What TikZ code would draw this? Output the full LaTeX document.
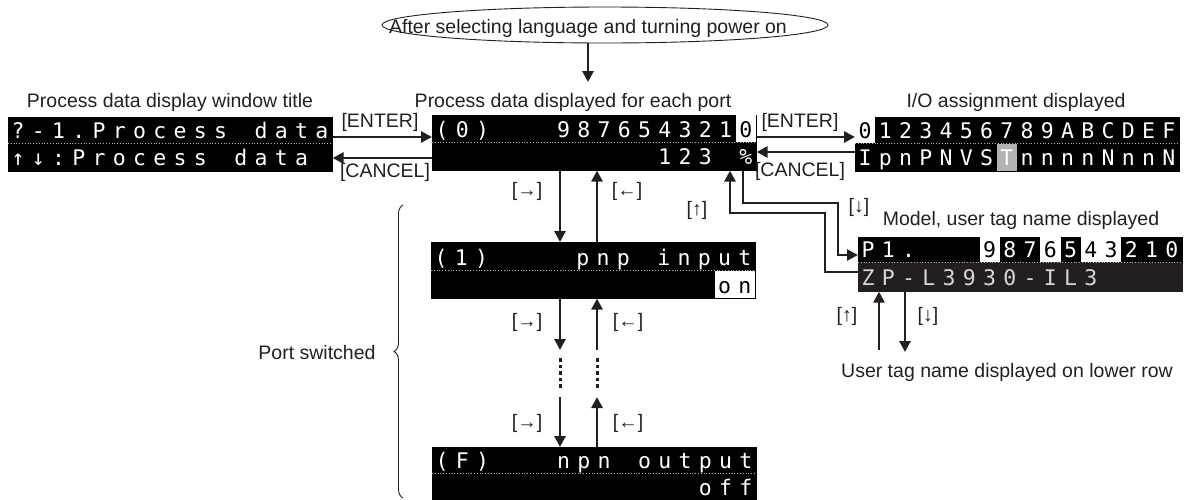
\documentclass[tikz,border=0pt]{standalone}
\usepackage{fontspec}
\setmainfont{Liberation Sans}
\newfontfamily\lcdfont{DejaVu Sans Mono}
\usetikzlibrary{arrows.meta,calc,shapes.geometric,decorations.pathreplacing}
\definecolor{ink}{RGB}{35,31,32}
\definecolor{lcdgray}{RGB}{35,31,32}
\definecolor{tgray}{RGB}{178,178,178}
\definecolor{txtgray}{RGB}{215,215,215}
\newcommand\lcdchars[5][]{%
  \foreach \i/\c in {#5} {\node[chr,#1] (#2-\i) at ({#3+(\i+0.5)*20.25},#4) {\c};}}
\begin{document}
\begin{tikzpicture}[x=1pt,y=-1pt,
  lbl/.style={font=\fontsize{19.5}{22}\selectfont, inner sep=0, text=ink, anchor=base},
  chr/.style={font=\lcdfont\fontsize{21.5}{24}\selectfont, inner sep=0, anchor=base, text=white},
  lcdrow/.style={fill=black, draw=black, line width=0.6pt, inner sep=0, anchor=north west, minimum width=324pt},
  rowsep/.style={white!70!black, dotted, line width=0.8pt},
  arr/.style={draw=ink, line width=2.8pt, -{Triangle[length=11pt,width=11pt]}},
  dotline/.style={draw=ink, line width=3pt, dash pattern=on 3.5pt off 3pt},
]
\useasboundingbox (0,0) rectangle (1186,499);

% ---------- top ellipse
\node[draw=ink, line width=0.9pt, ellipse, minimum width=446pt, minimum height=36pt, inner sep=0] (E) at (605,25) {};
\node[lbl] (Et) at (588,33) {After selecting language and turning power on};
\coordinate (Eend) at (588,82);
\draw[arr] (E.south -| Et) -- (Eend);

% ---------- captions
\node[lbl] (Lcap) at (170,107) {Process data display window title};
\node[lbl] (Ccap) at (573,107) {Process data displayed for each port};
\node[lbl] (IOcap) at (1016,107) {I/O assignment displayed};
\node[lbl] (Mcap) at (1021,225) {Model, user tag name displayed};
\node[lbl] (Ucap) at (1007,377) {User tag name displayed on lower row};
\node[lbl] (Pcap) at (317,359) {Port switched};

% ---------- left display
\node[lcdrow, minimum height=26pt] (Lt) at (8,117) {};
\node[lcdrow, minimum height=28pt] (Lb) at (8,143) {};
\draw[rowsep] (Lt.south west) -- (Lt.south east);
\lcdchars{Lt}{8}{138}{0/?,1/-,2/1,3/.,4/P,5/r,6/o,7/c,8/e,9/s,10/s,12/d,13/a,14/t,15/a}
\lcdchars{Lb}{8}{165}{0/↑,1/↓,2/:,3/P,4/r,5/o,6/c,7/e,8/s,9/s,11/d,12/a,13/t,14/a}

% ---------- center display (0)
\node[lcdrow, minimum height=27pt] (Ct) at (432,115) {};
\node[lcdrow, minimum height=28pt] (Cb) at (432,142) {};
\fill[white] ({432+15*20.25},115.3) rectangle ++(19.95,26.7);
\draw[rowsep] (Ct.south west) -- (Ct.south east);
\lcdchars{Ct}{432}{137}{0/(,1/0,2/),6/9,7/8,8/7,9/6,10/5,11/4,12/3,13/2,14/1}
\lcdchars[text=black]{Ct}{432}{137}{15/0}
\lcdchars{Cb}{432}{164}{11/1,12/2,13/3,15/\%}

% ---------- I/O display
\node[lcdrow, minimum height=26pt] (IOt) at (855,117) {};
\node[lcdrow, minimum height=28pt] (IOb) at (855,143) {};
\fill[white] (855.3,117.3) rectangle ++(19.95,25.7);
\fill[tgray] ({855+7*20.25},144) rectangle ++(20.25,26.5);
\draw[rowsep] (IOt.south west) -- (IOt.south east);
\lcdchars[text=black]{IOt}{855}{138}{0/0}
\lcdchars{IOt}{855}{138}{1/1,2/2,3/3,4/4,5/5,6/6,7/7,8/8,9/9,10/A,11/B,12/C,13/D,14/E,15/F}
\lcdchars{IOb}{855}{165}{0/I,1/p,2/n,3/P,4/N,5/V,6/S,7/T,8/n,9/n,10/n,11/n,12/N,13/n,14/n,15/N}

% ---------- model display
\node[lcdrow, minimum height=25pt] (Mt) at (858,237) {};
\node[lcdrow, fill=lcdgray, draw=lcdgray, minimum height=29pt] (Mb) at (858,262) {};
\foreach \k in {6,9,11,12} {\fill[white] ({858+\k*20.25},237.3) rectangle ++(20.25,24.7);}
\draw[rowsep] (Mt.south west) -- (Mt.south east);
\lcdchars{Mt}{858}{257}{0/P,1/1,2/.,7/8,8/7,10/5,13/2,14/1,15/0}
\lcdchars[text=black]{Mt}{858}{257}{6/9,9/6,11/4,12/3}
\lcdchars[text=txtgray]{Mb}{858}{285}{0/Z,1/P,2/-,3/L,4/3,5/9,6/3,7/0,8/-,9/I,10/L,11/3}

% ---------- port (1) display
\node[lcdrow, minimum height=28pt] (Pt) at (431,242) {};
\node[lcdrow, minimum height=28pt] (Pb) at (431,270) {};
\fill[white] ({431+14*20.25},271) rectangle ++(40,26.5);
\draw[rowsep] (Pt.south west) -- (Pt.south east);
\lcdchars{Pt}{431}{265}{0/(,1/1,2/),7/p,8/n,9/p,11/i,12/n,13/p,14/u,15/t}
\lcdchars[text=black]{Pb}{431}{293}{14/o,15/n}

% ---------- port (F) display
\node[lcdrow, minimum height=26pt] (Ft) at (432,447) {};
\node[lcdrow, minimum height=27pt] (Fb) at (432,473) {};
\draw[rowsep] (Ft.south west) -- (Ft.south east);
\lcdchars{Ft}{432}{468}{0/(,1/F,2/),6/n,7/p,8/n,10/o,11/u,12/t,13/p,14/u,15/t}
\lcdchars{Fb}{432}{495}{13/o,14/f,15/f}

% ---------- horizontal arrows top row
\draw[arr] (Lt.east |- 0,137) -- (Ct.west |- 0,137);
\draw[arr] (Cb.west |- 0,158) -- (Lb.east |- 0,158);
\draw[arr] (Ct.east |- 0,137) -- (IOt.west |- 0,137);
\draw[arr] (IOb.west |- 0,152) -- (Cb.east |- 0,152);
\node[lbl] (k1) at (380,127) {[ENTER]};
\node[lbl] (k2) at (385,177) {[CANCEL]};
\node[lbl] (k3) at (800,127) {[ENTER]};
\node[lbl] (k4) at (800,176) {[CANCEL]};

% ---------- vertical arrows center column
\coordinate (d1) at (560,350);
\coordinate (u1) at (597,350);
\coordinate (d2) at (560,397);
\coordinate (u2) at (597,397);
\draw[arr] (Cb.south -| d1) -- (Pt.north -| d1);
\draw[arr] (Pt.north -| u1) -- (Cb.south -| u1);
\draw[arr] (Pb.south -| d1) -- (d1);
\draw[arr] (u1) -- (Pb.south -| u1);
\draw[dotline] (560,358) -- (560,388);
\draw[dotline] (597,358) -- (597,388);
\draw[arr] (d2) -- (Ft.north -| d2);
\draw[arr] (Ft.north -| u2) -- (u2);
\node[lbl, anchor=center] (a1) at (527,191) {[→]};
\node[lbl, anchor=center] (a2) at (627,191) {[←]};
\node[lbl, anchor=center] (a3) at (527,322) {[→]};
\node[lbl, anchor=center] (a4) at (628,322) {[←]};
\node[lbl, anchor=center] (a5) at (527,423) {[→]};
\node[lbl, anchor=center] (a6) at (628,423) {[←]};

% ---------- center <-> model
\draw[arr] (743,0 |- Cb.south) -- (743,203) -- (838,203) -- (838,255) -- (Mt.west |- 0,255);
\draw[arr] (Mb.west |- 0,272) -- (825,272) -- (825,213) -- (730,213) -- (730,0 |- Cb.south);
\node[lbl, anchor=center] (a7) at (697,210) {[↑]};
\node[lbl, anchor=center] (a8) at (859,207) {[↓]};

% ---------- model <-> user tag
\coordinate (mu) at (879,350);
\coordinate (md) at (905,352);
\draw[arr] (mu) -- (Mb.south -| mu);
\draw[arr] (Mb.south -| md) -- (md);
\node[lbl, anchor=center] (a9) at (847,316) {[↑]};
\node[lbl, anchor=center] (a10) at (928,316) {[↓]};

% ---------- brace
\draw[ink, line width=0.9pt, decorate, decoration={brace, amplitude=9pt}] (403,498) -- (403,205);
\end{tikzpicture}
\end{document}
